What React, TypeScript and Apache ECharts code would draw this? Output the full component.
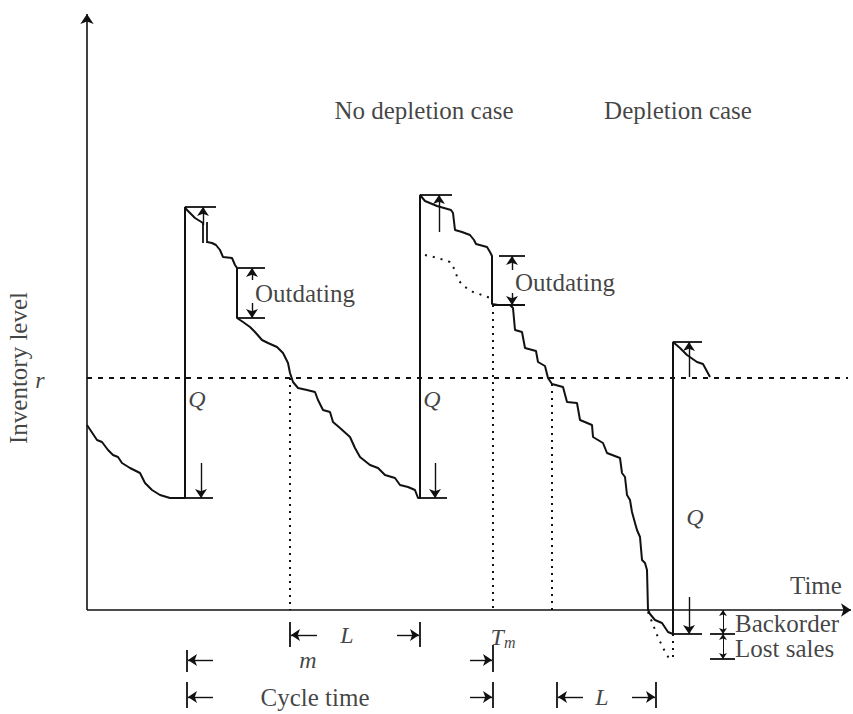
import React, { useEffect, useRef } from 'react';
import * as echarts from 'echarts';

type P = [number, number];

// Time (x) and inventory level (y) in schematic units; r = reorder point level
const REORDER_LEVEL = 232;
const X_MIN = -87;
const X_MAX = 766;
const Y_MIN = -104;
const Y_MAX = 600;

// First inventory path: end of previous cycle, order arrival, start of new cycle
const pathCycle1: P[] = [
  [0, 185], [10, 170], [15, 168], [21, 160], [26, 155], [31, 153], [35, 147], [43, 142],
  [53, 137], [58, 127], [65, 120], [73, 115], [83, 112], [98, 112],
  [98, 403], [100, 400], [108, 392], [116, 387],
];

// Second inventory path: after break, outdating drop, no depletion cycle, depletion cycle
const pathCycle2: P[] = [
  [120, 368], [125, 367], [129, 365], [133, 360], [136, 353], [145, 352], [148, 345], [150, 342],
  [150, 292], [156, 288], [163, 283], [168, 278], [175, 270], [181, 267], [190, 263], [196, 257],
  [201, 247], [203, 237], [206, 228], [211, 222], [220, 220], [228, 218], [231, 210], [236, 200],
  [243, 198], [246, 188], [253, 182], [263, 173], [268, 162], [273, 153], [283, 145], [291, 142],
  [298, 135], [308, 132], [313, 125], [321, 123], [328, 120], [331, 112], [333, 112],
  [333, 415], [338, 409], [350, 404], [364, 400], [366, 397], [368, 380], [375, 378], [383, 375],
  [387, 370], [389, 366], [400, 363], [403, 358], [405, 354], [405, 306], [411, 305], [423, 305],
  [426, 302], [428, 280], [435, 278], [438, 262], [449, 259], [451, 248], [458, 244], [461, 232],
  [465, 226], [476, 223], [480, 208], [490, 207], [493, 190], [505, 185], [506, 173], [516, 167],
  [520, 157], [533, 152], [535, 137], [538, 133], [540, 115], [543, 110], [545, 98], [548, 87],
  [550, 80], [553, 73], [555, 50], [558, 47], [560, 40], [561, 0], [563, -4], [568, -10],
  [575, -13], [581, -22], [586, -24],
  [586, 268], [593, 262], [600, 255], [610, 248], [616, 246], [623, 233],
];

// Dotted: inventory without outdating
const pathNoOutdating: P[] = [
  [338, 355], [351, 352], [363, 348], [368, 340], [371, 330], [378, 323], [386, 318], [398, 314], [403, 312],
];

// Dotted: demand lost during stock-out
const pathLostSales: P[] = [
  [561, -2], [565, -12], [570, -25], [576, -38], [580, -45], [584, -52],
];

const axisSegments: P[][] = [
  [[0, 0], [0, 596]],
  [[0, 0], [764, 0]],
];

const reorderLine: P[][] = [[[0, REORDER_LEVEL], [761, REORDER_LEVEL]]];

const dottedVerticals: P[][] = [
  [[203, REORDER_LEVEL], [203, 0]],
  [[406, 305], [406, 0]],
  [[465, 226], [465, 0]],
  [[586, -24], [586, -50]],
];

const plainSegments: P[][] = [
  [[98, 403], [129, 403]], [[98, 112], [126, 112]],
  [[150, 342], [178, 342]], [[150, 292], [178, 292]],
  [[333, 415], [365, 415]], [[333, 112], [360, 112]],
  [[412, 354], [438, 354]], [[405, 305], [438, 305]],
  [[586, 268], [615, 268]], [[586, -24], [615, -24]],
  [[623, -24], [648, -24]], [[623, -49], [648, -49]],
  [[116, 388], [116, 367]], [[120, 388], [120, 367]],
  [[203, -12], [203, -37]], [[333, -12], [333, -37]],
  [[100, -40], [100, -62]], [[406, -35], [406, -62]],
  [[100, -72], [100, -98]], [[406, -72], [406, -98]],
  [[470, -72], [470, -98]], [[569, -72], [569, -98]],
];

const arrowSegments: P[][] = [
  [[116, 385], [116, 403]], [[114, 147], [114, 112]],
  [[165, 330], [165, 342]], [[165, 307], [165, 292]],
  [[352, 378], [352, 415]], [[348, 147], [348, 112]],
  [[425, 340], [425, 354]], [[425, 317], [425, 305]],
  [[602, 233], [602, 268]], [[602, 13], [602, -24]],
  [[230, -25], [204, -25]], [[310, -25], [332, -25]],
  [[126, -50], [101, -50]], [[383, -50], [405, -50]],
  [[126, -87], [101, -87]], [[383, -87], [405, -87]],
  [[496, -87], [471, -87]], [[545, -87], [568, -87]],
];

const doubleArrowSegments: P[][] = [
  [[636, 0], [636, -24]],
  [[636, -24], [636, -49]],
];

// Text labels
const plainTexts = ['No depletion case', 'Depletion case', 'Outdating', 'Outdating', 'Time', 'Backorder', 'Lost sales', 'Cycle time'];
const plainTextPos: P[] = [[337, 500], [591, 500], [168, 317], [428, 328], [703, 25], [648, -13], [648, -38], [228, -87]];
const plainTextAlign = ['center', 'center', 'left', 'left', 'left', 'left', 'left', 'center'];

const italicTexts = ['r', 'Q', 'Q', 'Q', 'L', 'm', 'L'];
const italicTextPos: P[] = [[-47, 230], [110, 211], [345, 211], [608, 93], [260, -25], [221, -50], [515, -87]];

const yAxisTitle = 'Inventory level';

const INK = '#111';
const FONT = "'Liberation Serif', 'Times New Roman', serif";
const FS = 25;
const FS_IT = 24;

function buildOption(): echarts.EChartsOption {
  const lineSeries = (data: P[], style: any, z = 5) => ({
    type: 'line' as const,
    data,
    symbol: 'none',
    showSymbol: false,
    silent: true,
    clip: false,
    z,
    lineStyle: style,
    emphasis: { disabled: true },
  });
  const linesSeries = (segs: P[][], style: any, symbol: any, symbolSize: any) => ({
    type: 'lines' as const,
    coordinateSystem: 'cartesian2d',
    data: segs.map((c) => ({ coords: c })),
    symbol,
    symbolSize,
    silent: true,
    clip: false,
    z: 6,
    lineStyle: { opacity: 1, ...style },
    emphasis: { disabled: true },
  });

  const labelData: any[] = [];
  plainTexts.forEach((t, i) => {
    labelData.push({
      value: plainTextPos[i],
      label: {
        show: true, position: 'inside', formatter: t, align: plainTextAlign[i], verticalAlign: 'middle',
        fontSize: FS, fontFamily: FONT, color: INK,
      },
    });
  });
  italicTexts.forEach((t, i) => {
    labelData.push({
      value: italicTextPos[i],
      label: {
        show: true, position: 'inside', formatter: t, align: 'center', verticalAlign: 'middle',
        fontSize: FS_IT, fontFamily: FONT, fontStyle: 'italic', color: INK,
      },
    });
  });
  labelData.push({
    value: [416, -27],
    label: {
      show: true, position: 'inside', formatter: '{t|T}{s|m}', align: 'center', verticalAlign: 'middle',
      rich: {
        t: { fontSize: FS_IT, fontFamily: FONT, fontStyle: 'italic', color: INK },
        s: { fontSize: 16, fontFamily: FONT, fontStyle: 'italic', color: INK, padding: [10, 0, 0, 0] },
      },
    },
  });
  labelData.push({
    value: [-69, 242],
    label: {
      show: true, position: 'inside', formatter: yAxisTitle, align: 'center', verticalAlign: 'middle',
      rotate: 90, fontSize: FS, fontFamily: FONT, color: INK,
    },
  });

  return {
    animation: false,
    backgroundColor: '#ffffff',
    grid: { left: 0, right: 0, top: 10, bottom: 0 },
    xAxis: { type: 'value', min: X_MIN, max: X_MAX, show: false },
    yAxis: { type: 'value', min: Y_MIN, max: Y_MAX, show: false },
    series: [
      linesSeries(axisSegments, { color: INK, width: 1.6 }, ['none', 'arrow'], 10),
      linesSeries(reorderLine, { color: INK, width: 2, type: [5, 6] }, 'none', 0),
      linesSeries(dottedVerticals, { color: INK, width: 2, type: [2, 5] }, 'none', 0),
      linesSeries(plainSegments, { color: INK, width: 1.8 }, 'none', 0),
      linesSeries(arrowSegments, { color: INK, width: 1.4 }, ['none', 'arrow'], 9),
      linesSeries(doubleArrowSegments, { color: INK, width: 1 }, ['arrow', 'arrow'], 6),
      lineSeries(pathCycle1, { color: INK, width: 2 }),
      lineSeries(pathCycle2, { color: INK, width: 2 }),
      lineSeries(pathNoOutdating, { color: INK, width: 2, type: [2, 6] }),
      lineSeries(pathLostSales, { color: INK, width: 2, type: [2, 6] }),
      {
        type: 'scatter',
        symbolSize: 1,
        silent: true,
        z: 10,
        itemStyle: { color: 'rgba(0,0,0,0)' },
        emphasis: { disabled: true },
        data: labelData,
      },
    ],
  } as any;
}

export default function App() {
  const ref = useRef<HTMLDivElement>(null);
  useEffect(() => {
    if (!ref.current) return;
    const chart = echarts.init(ref.current, null, { renderer: 'svg' });
    chart.setOption(buildOption());
    return () => chart.dispose();
  }, []);
  return (
    <div
      ref={ref}
      style={{ position: 'fixed', left: 0, top: 0, width: 853, height: 714, background: '#fff' }}
    />
  );
}
